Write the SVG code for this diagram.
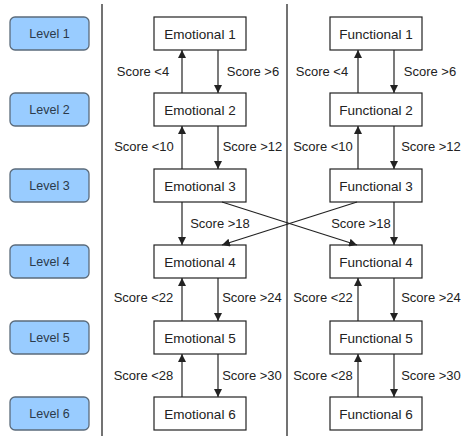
<svg xmlns="http://www.w3.org/2000/svg" width="462" height="436" viewBox="0 0 462 436">
<style>
.lvl rect{fill:#99ccff;stroke:#5b6b7b;stroke-width:1.3}
.lvl text{fill:#2b3a4a;font-family:"Liberation Sans",Arial,sans-serif;font-size:12.5px;text-anchor:middle}
.box rect{fill:#fff;stroke:#222;stroke-width:1.2}
.box text{fill:#222;font-family:"Liberation Sans",Arial,sans-serif;font-size:13.5px;text-anchor:middle}
.lbl{fill:#222;font-family:"Liberation Sans",Arial,sans-serif;font-size:13px;text-anchor:middle}
.div{stroke:#444;stroke-width:1.5}
.edge{stroke:#222;stroke-width:1.2;fill:none;marker-end:url(#ah)}
</style>
<defs>
<marker id="ah" viewBox="0 0 10 10" refX="10" refY="5" markerWidth="8" markerHeight="8" markerUnits="userSpaceOnUse" orient="auto">
<path d="M0,0 L10,5 L0,10 z" fill="#222"/>
</marker>
</defs>
<rect width="462" height="436" fill="#fff"/>
<line class="div" x1="102" y1="4" x2="102" y2="436"/>
<line class="div" x1="287" y1="4" x2="287" y2="436"/>

<g id="level1" class="lvl"><rect x="10" y="17" width="79" height="33" rx="5"/><text x="49.5" y="38">Level 1</text></g>
<g id="level2" class="lvl"><rect x="10" y="93" width="79" height="33" rx="5"/><text x="49.5" y="114">Level 2</text></g>
<g id="level3" class="lvl"><rect x="10" y="169" width="79" height="33" rx="5"/><text x="49.5" y="190">Level 3</text></g>
<g id="level4" class="lvl"><rect x="10" y="245" width="79" height="33" rx="5"/><text x="49.5" y="266">Level 4</text></g>
<g id="level5" class="lvl"><rect x="10" y="321" width="79" height="33" rx="5"/><text x="49.5" y="342">Level 5</text></g>
<g id="level6" class="lvl"><rect x="10" y="397" width="79" height="33" rx="5"/><text x="49.5" y="418">Level 6</text></g>

<g id="emo1" class="box"><rect x="154" y="17" width="92" height="33"/><text x="200" y="38.5">Emotional 1</text></g>
<g id="emo2" class="box"><rect x="154" y="93" width="92" height="33"/><text x="200" y="114.5">Emotional 2</text></g>
<g id="emo3" class="box"><rect x="154" y="169" width="92" height="33"/><text x="200" y="190.5">Emotional 3</text></g>
<g id="emo4" class="box"><rect x="154" y="245" width="92" height="33"/><text x="200" y="266.5">Emotional 4</text></g>
<g id="emo5" class="box"><rect x="154" y="321" width="92" height="33"/><text x="200" y="342.5">Emotional 5</text></g>
<g id="emo6" class="box"><rect x="154" y="397" width="92" height="33"/><text x="200" y="418.5">Emotional 6</text></g>

<g id="fun1" class="box"><rect x="330" y="17" width="92" height="33"/><text x="376" y="38.5">Functional 1</text></g>
<g id="fun2" class="box"><rect x="330" y="93" width="92" height="33"/><text x="376" y="114.5">Functional 2</text></g>
<g id="fun3" class="box"><rect x="330" y="169" width="92" height="33"/><text x="376" y="190.5">Functional 3</text></g>
<g id="fun4" class="box"><rect x="330" y="245" width="92" height="33"/><text x="376" y="266.5">Functional 4</text></g>
<g id="fun5" class="box"><rect x="330" y="321" width="92" height="33"/><text x="376" y="342.5">Functional 5</text></g>
<g id="fun6" class="box"><rect x="330" y="397" width="92" height="33"/><text x="376" y="418.5">Functional 6</text></g>

<g id="connectors">
<line class="edge" x1="182" y1="93" x2="182" y2="50"/>
<line class="edge" x1="218" y1="50" x2="218" y2="93"/>
<line class="edge" x1="182" y1="169" x2="182" y2="126"/>
<line class="edge" x1="218" y1="126" x2="218" y2="169"/>
<line class="edge" x1="182" y1="202" x2="182" y2="245"/>
<line class="edge" x1="222" y1="202" x2="357" y2="245"/>
<line class="edge" x1="182" y1="321" x2="182" y2="278"/>
<line class="edge" x1="218" y1="278" x2="218" y2="321"/>
<line class="edge" x1="182" y1="397" x2="182" y2="354"/>
<line class="edge" x1="218" y1="354" x2="218" y2="397"/>

<line class="edge" x1="358" y1="93" x2="358" y2="50"/>
<line class="edge" x1="394" y1="50" x2="394" y2="93"/>
<line class="edge" x1="358" y1="169" x2="358" y2="126"/>
<line class="edge" x1="394" y1="126" x2="394" y2="169"/>
<line class="edge" x1="394" y1="202" x2="394" y2="245"/>
<line class="edge" x1="357" y1="202" x2="222" y2="245"/>
<line class="edge" x1="358" y1="321" x2="358" y2="278"/>
<line class="edge" x1="394" y1="278" x2="394" y2="321"/>
<line class="edge" x1="358" y1="397" x2="358" y2="354"/>
<line class="edge" x1="394" y1="354" x2="394" y2="397"/>

<text class="lbl" x="143" y="76">Score &lt;4</text>
<text class="lbl" x="253" y="76">Score &gt;6</text>
<text class="lbl" x="144" y="151">Score &lt;10</text>
<text class="lbl" x="252.5" y="151">Score &gt;12</text>
<text class="lbl" x="220" y="228">Score &gt;18</text>
<text class="lbl" x="143.5" y="302">Score &lt;22</text>
<text class="lbl" x="252" y="302">Score &gt;24</text>
<text class="lbl" x="143.5" y="380">Score &lt;28</text>
<text class="lbl" x="252" y="380">Score &gt;30</text>

<text class="lbl" x="322" y="76">Score &lt;4</text>
<text class="lbl" x="430" y="76">Score &gt;6</text>
<text class="lbl" x="323" y="151">Score &lt;10</text>
<text class="lbl" x="431" y="151">Score &gt;12</text>
<text class="lbl" x="361" y="228">Score &gt;18</text>
<text class="lbl" x="323" y="302">Score &lt;22</text>
<text class="lbl" x="431" y="302">Score &gt;24</text>
<text class="lbl" x="323" y="380">Score &lt;28</text>
<text class="lbl" x="431" y="380">Score &gt;30</text>
</g>
</svg>
